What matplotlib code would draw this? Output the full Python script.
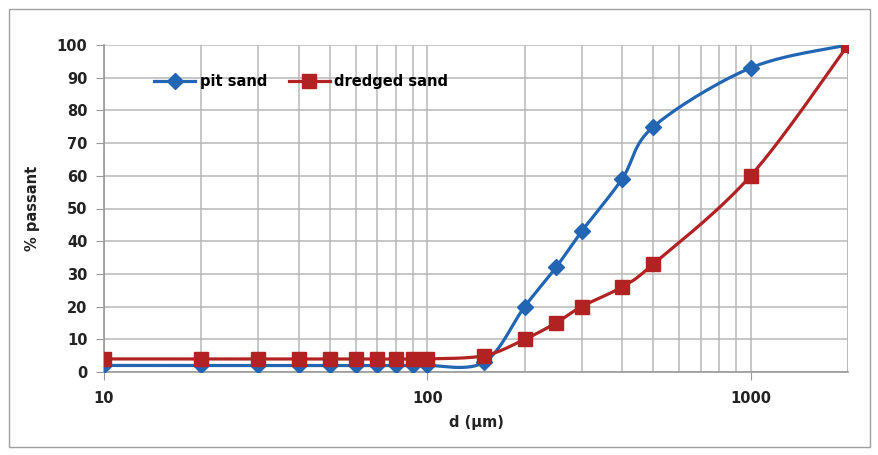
import numpy as np
import matplotlib
matplotlib.use("Agg")
import matplotlib.pyplot as plt
from matplotlib.patches import Rectangle
from matplotlib.ticker import LogLocator, FixedLocator, NullFormatter

# sieve sizes (µm) and % passing
d_um = [10, 20, 30, 40, 50, 60, 70, 80, 90, 100, 150, 200, 250, 300, 400, 500, 1000, 2000]
pit_sand = [2, 2, 2, 2, 2, 2, 2, 2, 2, 2, 3, 20, 32, 43, 59, 75, 93, 100]
dredged_sand = [4, 4, 4, 4, 4, 4, 4, 4, 4, 4, 5, 10, 15, 20, 26, 33, 60, 100]

BLUE = "#2266b3"
RED = "#b22222"


def smooth(x, y, n=30):
    """excel-ish smoothing: cardinal spline in log-x space"""
    lx = np.log10(np.asarray(x, float))
    y = np.asarray(y, float)
    px = np.concatenate([[lx[0]], lx, [lx[-1]]])
    py = np.concatenate([[y[0]], y, [y[-1]]])
    xs, ys = [], []
    for i in range(1, len(px) - 2):
        p0 = np.array([px[i], py[i]])
        p3 = np.array([px[i + 1], py[i + 1]])
        c1 = p0 + (np.array([px[i + 1], py[i + 1]]) - np.array([px[i - 1], py[i - 1]])) / 6
        c2 = p3 - (np.array([px[i + 2], py[i + 2]]) - np.array([px[i], py[i]])) / 6
        t = np.linspace(0, 1, n)[:, None]
        b = (1 - t) ** 3 * p0 + 3 * (1 - t) ** 2 * t * c1 + 3 * (1 - t) * t ** 2 * c2 + t ** 3 * p3
        xs.append(b[:, 0])
        ys.append(b[:, 1])
    return 10 ** np.concatenate(xs), np.concatenate(ys)


fig = plt.figure(figsize=(8.79, 4.55), dpi=100)
ax = fig.add_axes([104 / 879, 1 - 372 / 455, (848 - 104) / 879, (372 - 45) / 455])

fig.patches.append(Rectangle((9 / 879, 8 / 455), 861 / 879, 438 / 455, transform=fig.transFigure,
                             fill=False, edgecolor="#a0a0a0", linewidth=1.0))

sx, sy = smooth(d_um, pit_sand)
ax.plot(sx, sy, color=BLUE, linewidth=2.3, zorder=3)
ax.plot(d_um, pit_sand, linestyle="none", marker="D", markersize=8, color=BLUE, zorder=4)
ax.plot([], [], color=BLUE, linewidth=2.3, marker="D", markersize=8, label="pit sand")

sx, sy = smooth(d_um, dredged_sand)
ax.plot(sx, sy, color=RED, linewidth=2.3, zorder=5)
ax.plot(d_um, dredged_sand, linestyle="none", marker="s", markersize=10.5, color=RED, zorder=6)
ax.plot([], [], color=RED, linewidth=2.3, marker="s", markersize=10.5, label="dredged sand")

ax.set_xscale("log")
ax.set_xlim(10, 2000)
ax.set_ylim(0, 100)
ax.xaxis.set_major_locator(FixedLocator([10, 100, 1000]))
ax.xaxis.set_minor_locator(LogLocator(base=10, subs=np.arange(2, 10)))
ax.xaxis.set_minor_formatter(NullFormatter())
ax.set_xticklabels(["10", "100", "1000"])
ax.set_yticks(np.arange(0, 101, 10))

ax.grid(True, which="both", axis="x", color="#b8b8b8", linewidth=1.1)
ax.grid(True, which="major", axis="y", color="#b8b8b8", linewidth=1.1)
ax.axvline(2000, color="#b8b8b8", linewidth=1.1, zorder=0.5)
ax.set_axisbelow(True)

for s in ["top", "right"]:
    ax.spines[s].set_visible(False)
for s in ["left", "bottom"]:
    ax.spines[s].set_color("#999999")
    ax.spines[s].set_linewidth(1.2)

font = dict(family="DejaVu Sans", weight="bold", size=10.5, color="#222222")
ax.tick_params(axis="both", which="major", length=6, color="#999999", labelsize=10.5, labelcolor="#222222")
ax.tick_params(axis="x", which="minor", length=0)
ax.tick_params(axis="x", pad=8)
ax.tick_params(axis="y", pad=6)
for lab in ax.get_xticklabels() + ax.get_yticklabels():
    lab.set_fontweight("bold")

ax.set_xlabel("d (µm)", fontdict=font, labelpad=6)
ax.set_ylabel("% passant", fontdict=font, labelpad=12)

ax.legend(loc="upper left", bbox_to_anchor=(0.05, 0.95), ncol=2, frameon=False,
          prop=dict(family="DejaVu Sans", weight="bold", size=10.5), handlelength=2.8,
          columnspacing=1.5, handletextpad=0.3)

fig.savefig("out.png", dpi=100)
